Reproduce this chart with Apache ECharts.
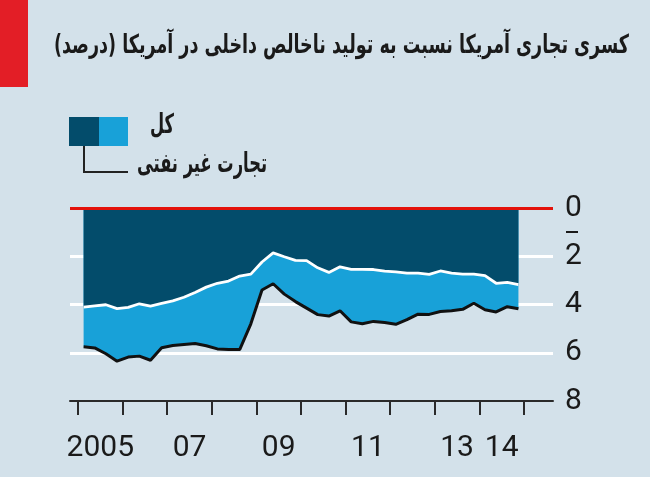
<!DOCTYPE html>
<html>
<head>
<meta charset="utf-8">
<script src="https://cdn.jsdelivr.net/npm/echarts@6/dist/echarts.min.js"></script>
<style>
  html, body { margin: 0; padding: 0; background: #d3e1ea; }
  #chart { width: 650px; height: 477px; }
</style>
</head>
<body>
<div id="chart"></div>
<script>
'use strict';

// quarterly points, Q1 2005 .. Q4 2014 (x = mid-quarter)
const quarters = [
  2005.125, 2005.375, 2005.625, 2005.875, 2006.125, 2006.375, 2006.625, 2006.875,
  2007.125, 2007.375, 2007.625, 2007.875, 2008.125, 2008.375, 2008.625, 2008.875,
  2009.125, 2009.375, 2009.625, 2009.875, 2010.125, 2010.375, 2010.625, 2010.875,
  2011.125, 2011.375, 2011.625, 2011.875, 2012.125, 2012.375, 2012.625, 2012.875,
  2013.125, 2013.375, 2013.625, 2013.875, 2014.125, 2014.375, 2014.625, 2014.875
];
// upper boundary (white line)
const upperLine = [
  4.11, 4.06, 4.01, 4.17, 4.12, 3.97, 4.07, 3.95,
  3.85, 3.70, 3.50, 3.28, 3.12, 3.03, 2.82, 2.74,
  2.24, 1.86, 2.02, 2.17, 2.18, 2.48, 2.67, 2.44,
  2.54, 2.54, 2.55, 2.62, 2.65, 2.70, 2.70, 2.75,
  2.61, 2.70, 2.74, 2.74, 2.80, 3.12, 3.08, 3.18
];
// lower boundary (black line)
const lowerLine = [
  5.75, 5.80, 6.04, 6.35, 6.18, 6.14, 6.31, 5.79,
  5.70, 5.66, 5.62, 5.71, 5.84, 5.87, 5.87, 4.80,
  3.40, 3.14, 3.57, 3.88, 4.15, 4.42, 4.48, 4.26,
  4.72, 4.80, 4.70, 4.75, 4.82, 4.63, 4.40, 4.41,
  4.29, 4.26, 4.20, 3.95, 4.22, 4.31, 4.09, 4.18
];
const yearTicks = [2005, 2006, 2007, 2008, 2009, 2010, 2011, 2012, 2013, 2014, 2015];
const yearLabelPos = [2005.5, 2007.5, 2009.5, 2011.5, 2013.5, 2014.5];
const yearLabelText = ['2005', '07', '09', '11', '13', '14'];

const TITLE = 'کسری تجاری آمریکا نسبت به تولید ناخالص داخلی در آمریکا (درصد)';
const LEGEND_TOTAL = 'کل';
const LEGEND_NONOIL = 'تجارت غیر نفتی';

const C = {
  bg: '#d3e1ea',
  dark: '#034c6b',
  light: '#18a1d8',
  red: '#e3120b',
  tag: '#e31e26',
  ink: '#1a1a1a'
};

const FA_FONT = '"DejaVu Sans"';

// squeeze Persian text to the width it takes in the reference
function fitScale(text, font, width) {
  const ctx = document.createElement('canvas').getContext('2d');
  ctx.font = font;
  return width / ctx.measureText(text).width;
}

function faText(text, size, right, y, width) {
  const font = 'bold ' + size + 'px ' + FA_FONT;
  return {
    type: 'text', x: right, y: y,
    scaleX: fitScale(text, font, width),
    style: { text, font, fill: C.ink, textAlign: 'right', textVerticalAlign: 'middle' }
  };
}

const chart = echarts.init(document.getElementById('chart'), null, { renderer: 'canvas' });

const pairs = (ys) => quarters.map((x, i) => [x, ys[i]]);

chart.setOption({
  backgroundColor: C.bg,
  animation: false,
  grid: { left: 70, right: 97, top: 208, bottom: 76 },
  xAxis: {
    type: 'value',
    min: 2004.82,
    max: 2015.65,
    axisLine: { show: true, onZero: false, lineStyle: { color: '#2a2a2a', width: 2 } },
    axisTick: { show: true, customValues: yearTicks, length: 14, lineStyle: { color: '#2a2a2a', width: 2 } },
    axisLabel: {
      customValues: yearLabelPos,
      formatter: (v) => yearLabelText[yearLabelPos.indexOf(v)] || '',
      color: C.ink, fontSize: 30, fontFamily: 'Roboto', margin: 32
    },
    splitLine: { show: false }
  },
  yAxis: {
    type: 'value',
    inverse: true,
    min: 0, max: 8, interval: 2,
    position: 'right',
    axisLine: { show: false },
    axisTick: { show: false },
    axisLabel: {
      color: C.ink, fontSize: 30, fontFamily: 'Roboto', margin: 12,
      showMinLabel: true, showMaxLabel: true
    },
    splitLine: {
      show: true,
      lineStyle: { color: ['rgba(0,0,0,0)', '#ffffff', '#ffffff', '#ffffff', 'rgba(0,0,0,0)'], width: 3 }
    }
  },
  series: [
    {
      type: 'line', name: 'lower', data: pairs(lowerLine), z: 2,
      showSymbol: false, symbol: 'none',
      lineStyle: { color: '#111', width: 3 },
      areaStyle: { color: C.light, opacity: 1 }
    },
    {
      type: 'line', name: 'upper', data: pairs(upperLine), z: 3,
      showSymbol: false, symbol: 'none',
      lineStyle: { color: '#ffffff', width: 2.8 },
      areaStyle: { color: C.dark, opacity: 1 },
      markLine: {
        silent: true, symbol: 'none', label: { show: false },
        lineStyle: { color: C.red, width: 3, type: 'solid' },
        data: [{ yAxis: 0 }]
      }
    }
  ],
  graphic: [
    { type: 'rect', shape: { x: 0, y: 0, width: 28, height: 87 }, style: { fill: C.tag } },
    faText(TITLE, 26, 629, 46, 575),
    // minus sign under the zero label
    { type: 'rect', shape: { x: 566, y: 231, width: 12, height: 2 }, style: { fill: C.ink } },
    { type: 'rect', shape: { x: 69, y: 117, width: 30, height: 29 }, style: { fill: C.dark } },
    { type: 'rect', shape: { x: 99, y: 117, width: 29, height: 29 }, style: { fill: C.light } },
    {
      type: 'polyline', shape: { points: [[84, 146], [84, 172], [128, 172]] },
      style: { stroke: '#222', lineWidth: 2, fill: null }
    },
    faText(LEGEND_TOTAL, 27, 174, 126, 24),
    faText(LEGEND_NONOIL, 27, 267, 165, 130)
  ]
});
</script>
</body>
</html>
